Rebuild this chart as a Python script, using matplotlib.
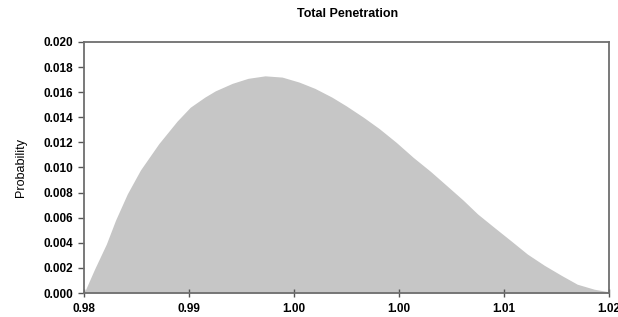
import matplotlib.pyplot as plt
import numpy as np

# values
penetration = [0.9800, 0.9808, 0.9817, 0.9824, 0.9833, 0.9843, 0.9857, 0.9871, 0.9881, 0.9892,
               0.9900, 0.9913, 0.9925, 0.9938, 0.9951, 0.9964, 0.9976, 0.9989,
               1.0000, 1.0013, 1.0025, 1.0038, 1.0051, 1.0064, 1.0076, 1.0089,
               1.0100, 1.0113, 1.0125, 1.0138, 1.0151, 1.0164, 1.0176, 1.0189, 1.0200]
probability = [0.0000, 0.0019, 0.0039, 0.0058, 0.0079, 0.0098, 0.0119, 0.0137, 0.0148, 0.0156,
               0.0161, 0.0167, 0.0171, 0.0173, 0.0172, 0.0168, 0.0163, 0.0156,
               0.0149, 0.0140, 0.0131, 0.0120, 0.0108, 0.0097, 0.0086, 0.0074,
               0.0063, 0.0052, 0.0042, 0.0031, 0.0022, 0.0014, 0.0007, 0.0003, 0.0001]
xticks = [0.980, 0.988, 0.996, 1.004, 1.012, 1.020]
xlabels = ["0.98", "0.99", "1.00", "1.00", "1.01", "1.02"]

plt.rcParams['font.family'] = ['Liberation Sans Narrow', 'Liberation Sans', 'DejaVu Sans']

fig = plt.figure(figsize=(6.18, 3.17), dpi=100)
ax = fig.add_axes([0.136, 0.0757, 0.849, 0.792])

ax.fill_between(penetration, probability, 0, color='#c6c6c6', linewidth=0)

ax.set_xlim(0.98, 1.02)
ax.set_ylim(0, 0.020)
ax.set_xticks(xticks)
ax.set_xticklabels(xlabels)
ax.set_yticks(np.arange(0, 0.0201, 0.002))
ax.set_yticklabels([f"{v:.3f}" for v in np.arange(0, 0.0201, 0.002)])

for s in ax.spines.values():
    s.set_color('#6e6e6e')
    s.set_linewidth(1.3)

ax.tick_params(axis='y', direction='out', length=4, width=1, color='#555555',
               labelsize=8.5, pad=4)
ax.tick_params(axis='x', direction='inout', length=6, width=1, color='#555555',
               labelsize=8.5, pad=4)
for lab in ax.get_xticklabels() + ax.get_yticklabels():
    lab.set_fontweight('bold')

ax.set_ylabel("Probability", fontsize=9, labelpad=12)
fig.text(0.563, 0.955, "Total Penetration", ha='center', va='center',
         fontsize=9, fontweight='bold')

fig.savefig("out.png", dpi=100)
